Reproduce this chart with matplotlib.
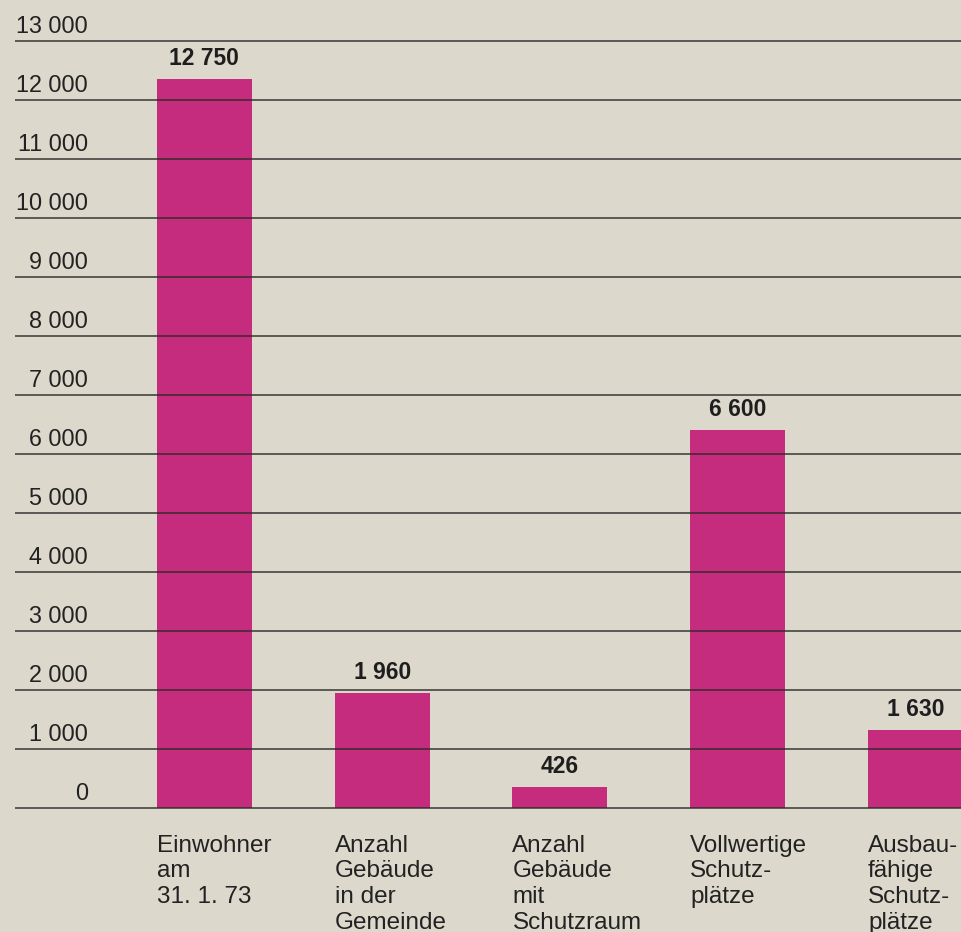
import matplotlib
matplotlib.use('Agg')
import matplotlib.pyplot as plt

# values printed above the bars, and the bar heights as drawn in the original
value_labels = ['12 750', '1 960', '426', '6 600', '1 630']
bar_heights = [12360, 1950, 360, 6400, 1320]
categories = ['Einwohner\nam\n31. 1. 73',
              'Anzahl\nGebäude\nin der\nGemeinde',
              'Anzahl\nGebäude\nmit\nSchutzraum',
              'Vollwertige\nSchutz-\nplätze',
              'Ausbau-\nfähige\nSchutz-\nplätze']
yticks = list(range(0, 14000, 1000))
ytick_labels = ['0'] + ['{:,}'.format(v).replace(',', ' ') for v in yticks[1:]]

plt.rcParams['font.family'] = ['Liberation Sans', 'DejaVu Sans']
paper = '#dcd8cc'
magenta = '#c62c7e'

fig = plt.figure(figsize=(9.61, 9.32), dpi=100)
fig.patch.set_facecolor(paper)
ax = fig.add_axes([15 / 961, 0, 946 / 961, 1])
ax.set_facecolor(paper)

width = 0.534
x = list(range(len(bar_heights)))
ax.bar(x, bar_heights, width=width, color=magenta, zorder=2)

for v in yticks:
    ax.axhline(v, color='#2b2926', lw=1.2, alpha=0.85, zorder=3)

ytrans = ax.get_yaxis_transform()
for v, lab in zip(yticks, ytick_labels):
    ax.text(0.077, v + 140, lab, transform=ytrans, ha='right', va='baseline',
            fontsize=16.8, color='#222222')

for xi, h, lab in zip(x, bar_heights, value_labels):
    ax.text(xi, h + 240, lab, ha='center', va='baseline', fontsize=16.5,
            fontweight='bold', color='#1e1e1e')

for xi, cat in zip(x, categories):
    ax.text(xi - width / 2, -450, cat, ha='left', va='top',
            fontsize=17.5, linespacing=1.22, color='#222222')

ax.set_xlim(-1.065, 4.256)
ax.set_ylim(-2102, 13695)
ax.axis('off')

plt.savefig('out.png', dpi=100, facecolor=paper)
